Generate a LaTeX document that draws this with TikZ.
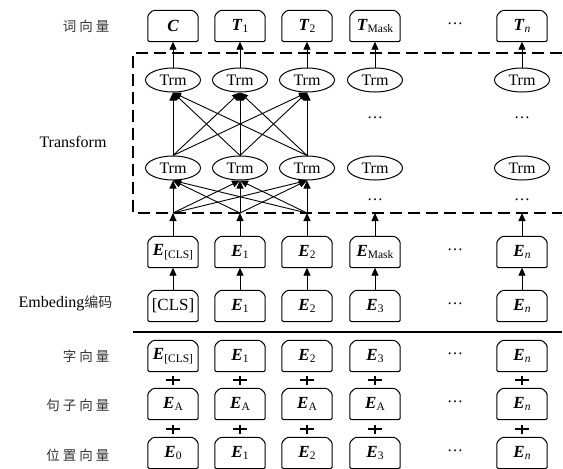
\documentclass[tikz,border=0pt]{standalone}
\usepackage{fontspec}
\setmainfont{Liberation Serif}
\newfontfamily\cjk{Noto Sans CJK SC}
\usetikzlibrary{arrows.meta,shapes.geometric}

\newcommand\bv[2]{\textbf{\textit{#1}}\raisebox{-0.35ex}{\fontsize{11.5}{12}\selectfont #2}}
\newcommand\cbox[4]{%
  \node[boxn] (#1) at (#2,#3) {#4};
  \draw[boxl] ([xshift=5pt]#1.north west) -- ([xshift=-5pt]#1.north east)
    -- ([yshift=-5pt]#1.north east) -- (#1.south east) -- (#1.south west)
    -- ([yshift=-5pt]#1.north west) -- cycle;}
\newcommand\plusat[3]{%
  \node[plusn] (#1) at (#2,#3) {};
  \draw[line width=2.8pt] ([xshift=-7pt]#1.center) -- ([xshift=7pt]#1.center);
  \draw[line width=2.8pt] ([yshift=-4.5pt]#1.center) -- ([yshift=4.5pt]#1.center);}

\begin{document}
\begin{tikzpicture}[x=1pt,y=-1pt,
  every node/.style={font=\fontsize{16}{19}\selectfont},
  boxn/.style={rectangle,minimum width=50pt,minimum height=31pt,inner sep=0pt,font=\fontsize{17}{20}\selectfont},
  boxl/.style={line width=1pt,rounded corners=1.5pt},
  plusn/.style={inner sep=0pt,minimum size=1pt},
  trm/.style={ellipse,draw,line width=1pt,minimum width=55pt,minimum height=24pt,inner sep=0pt},
  arr/.style={-{Triangle[length=8pt,width=7pt]},line width=0.9pt},
  lab/.style={anchor=east,font=\cjk\fontsize{13.5}{15}\selectfont,text=black!80},
  dotn/.style={font=\fontsize{16}{19}\selectfont,inner sep=0pt}
]
\useasboundingbox (0,0) rectangle (563,469);

% ---- labels
\node[lab] (l1) at (113,26) {词\hspace{3pt}向\hspace{3pt}量};
\node (l2) at (73,142) {Transform};
\node[anchor=east] (l3) at (116,303) {Embeding{\cjk\fontsize{14}{16}\selectfont\color{black!80}编码}};
\node[lab] (l4) at (113,356) {字\hspace{3pt}向\hspace{3pt}量};
\node[lab] (l5) at (113,405) {句\hspace{3pt}子\hspace{3pt}向\hspace{3pt}量};
\node[lab] (l6) at (113,455) {位\hspace{3pt}置\hspace{3pt}向\hspace{3pt}量};

% ---- top output row
\cbox{o1}{173}{26}{\textbf{\textit{C}}}
\cbox{o2}{240}{26}{\bv{T}{1}}
\cbox{o3}{307}{26}{\bv{T}{2}}
\cbox{o4}{375}{26}{\bv{T}{Mask}}
\node[dotn] (od) at (455,24) {…};
\cbox{on}{522}{26}{\bv{T}{\textit{n}}}

% ---- dashed transformer frame
\draw[line width=1.1pt,dash pattern=on 12pt off 6pt] (562,53) -- (133,53) -- (133,213) -- (562,213);

% ---- Trm rows
\foreach \i/\x in {1/173,2/240,3/307,4/375,n/522}{
  \node[trm] (t\i) at (\x,80) {Trm};
  \node[trm] (b\i) at (\x,168) {Trm};
}
\node[dotn] (dd1) at (375,118) {…};
\node[dotn] (dd2) at (522,118) {…};
\node[dotn] (dd3) at (375,200) {…};
\node[dotn] (dd4) at (522,200) {…};

\foreach \i in {1,2,3,4,n}{\draw[arr] (t\i.north) -- (o\i.south);}
\foreach \i in {1,2,3}{\foreach \j in {1,2,3}{\draw[arr] (b\i.north) -- (t\j.south);}}

% ---- entry points on the dashed line
\foreach \i/\x in {1/173,2/240,3/307,4/375,n/522}{\coordinate (d\i) at (\x,213);}
\foreach \i in {1,2,3}{\foreach \j in {1,2,3}{\draw[arr] (d\i) -- (b\j.south);}}

% ---- embedding rows
\cbox{m1}{173}{252}{\bv{E}{[CLS]}}
\cbox{m2}{240}{252}{\bv{E}{1}}
\cbox{m3}{307}{252}{\bv{E}{2}}
\cbox{m4}{375}{252}{\bv{E}{Mask}}
\node[dotn] (md) at (455,250) {…};
\cbox{mn}{522}{252}{\bv{E}{\textit{n}}}

\cbox{e1}{173}{306}{[CLS]}
\cbox{e2}{240}{306}{\bv{E}{1}}
\cbox{e3}{307}{306}{\bv{E}{2}}
\cbox{e4}{375}{306}{\bv{E}{3}}
\node[dotn] (ed) at (455,304) {…};
\cbox{en}{522}{306}{\bv{E}{\textit{n}}}

\foreach \i in {1,2,3,4,n}{
  \draw[arr] (e\i.north) -- (m\i.south);
  \draw[arr] (m\i.north) -- (d\i);
}

% ---- separator
\draw[line width=1.5pt] (133,332) -- (562,332);

% ---- input sum rows
\cbox{a1}{173}{356}{\bv{E}{[CLS]}}
\cbox{a2}{240}{356}{\bv{E}{1}}
\cbox{a3}{307}{356}{\bv{E}{2}}
\cbox{a4}{375}{356}{\bv{E}{3}}
\node[dotn] (ad) at (455,354) {…};
\cbox{an}{522}{356}{\bv{E}{\textit{n}}}

\cbox{s1}{173}{404}{\bv{E}{A}}
\cbox{s2}{240}{404}{\bv{E}{A}}
\cbox{s3}{307}{404}{\bv{E}{A}}
\cbox{s4}{375}{404}{\bv{E}{A}}
\node[dotn] (sd) at (455,402) {…};
\cbox{sn}{522}{404}{\bv{E}{\textit{n}}}

\cbox{p1}{173}{453}{\bv{E}{0}}
\cbox{p2}{240}{453}{\bv{E}{1}}
\cbox{p3}{307}{453}{\bv{E}{2}}
\cbox{p4}{375}{453}{\bv{E}{3}}
\node[dotn] (pd) at (455,451) {…};
\cbox{pn}{522}{453}{\bv{E}{\textit{n}}}

\foreach \i/\x in {1/173,2/240,3/307,4/375,n/522}{
  \plusat{pa\i}{\x}{380}
  \plusat{pb\i}{\x}{429}
}
\end{tikzpicture}
\end{document}
